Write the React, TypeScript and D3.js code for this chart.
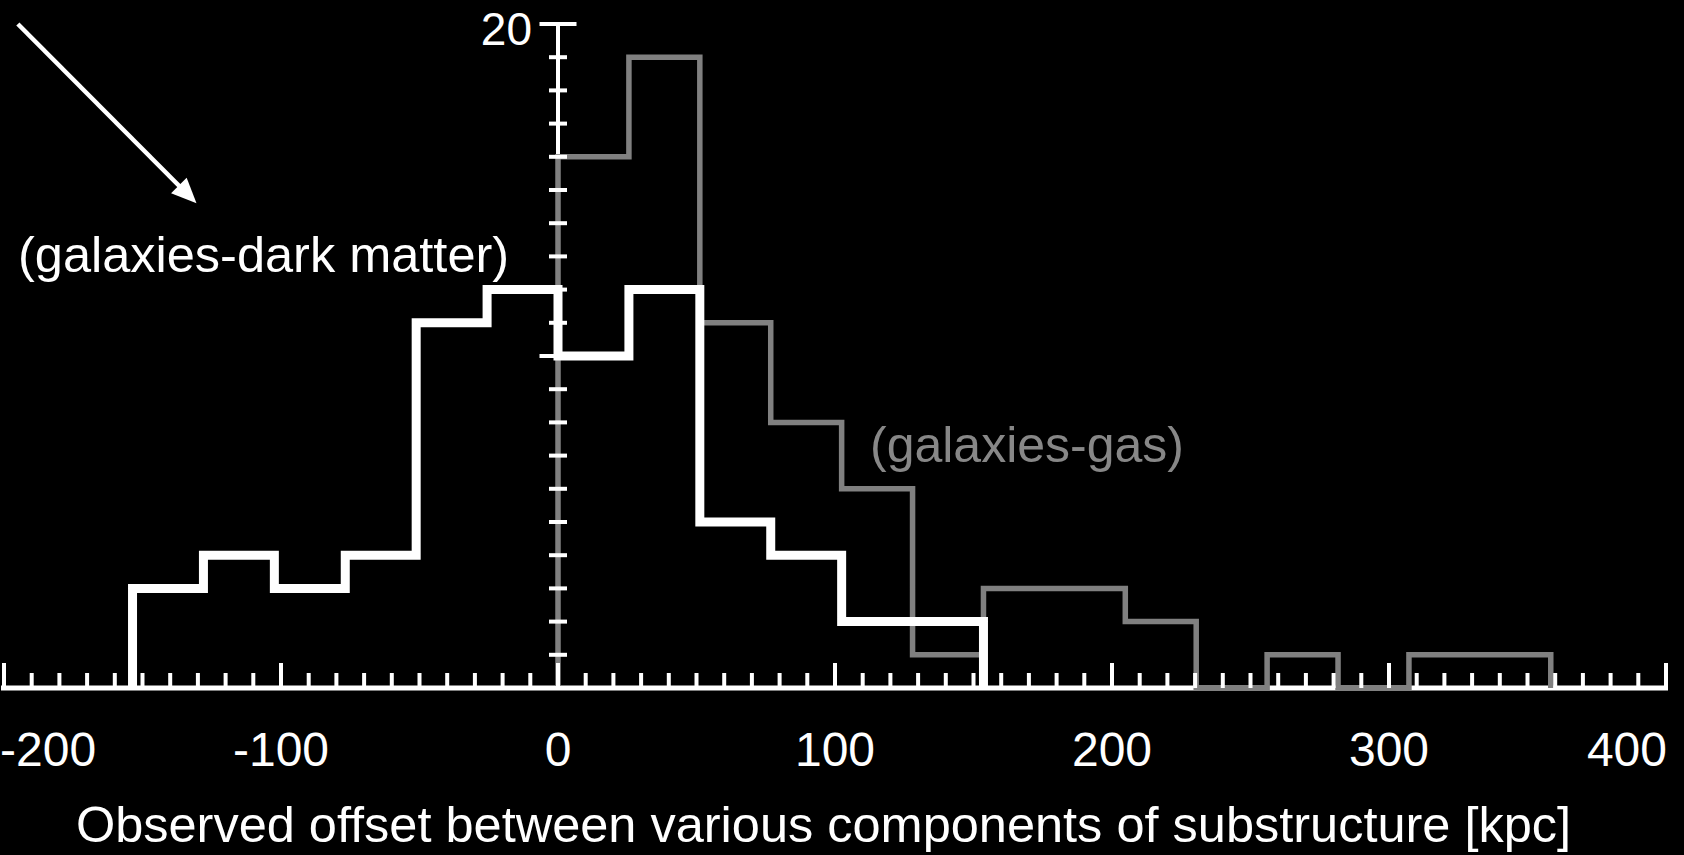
import React from "react";
import * as d3 from "d3";

const W = 1684;
const H = 855;

// Histogram data (counts per bin), bin width in kpc
const binWidth = 25.6;
const darkMatterFirstBin = -6; // first bin starts at -6 * binWidth
const darkMatterCounts = [3, 4, 3, 4, 11, 12, 10, 12, 5, 4, 2, 2];
const gasFirstBin = 0;
const gasCounts = [16, 19, 11, 8, 6, 1, 3, 3, 2, 0, 1, 0, 1, 1];

const xTickLabels = [-200, -100, 0, 100, 200, 300, 400];
const yTickLabels = [20];

const xLabel = "Observed offset between various components of substructure [kpc]";
const darkMatterLabel = "(galaxies-dark matter)";
const gasLabel = "(galaxies-gas)";

const FONT = "'Liberation Sans', Arial, Helvetica, sans-serif";
const GRAY = "#808080";

function stepPoints(first: number, counts: number[]): [number, number][] {
  const pts: [number, number][] = [];
  const e0 = first * binWidth;
  pts.push([e0, 0]);
  counts.forEach((c, i) => {
    const a = (first + i) * binWidth;
    const b = (first + i + 1) * binWidth;
    pts.push([a, c]);
    pts.push([b, c]);
  });
  pts.push([(first + counts.length) * binWidth, 0]);
  return pts;
}

export default function App() {
  const x = d3.scaleLinear().domain([-200, 400]).range([4, 1666]);
  const y = d3.scaleLinear().domain([0, 20]).range([688, 24]);

  const line = d3
    .line<[number, number]>()
    .x((d) => x(d[0]))
    .y((d) => y(d[1]));

  const dmPath = line(stepPoints(darkMatterFirstBin, darkMatterCounts)) || "";
  const gasPath = line(stepPoints(gasFirstBin, gasCounts)) || "";

  const xMinor = d3.range(-200, 401, 10);
  const yMinor = d3.range(0, 21, 1);

  // arrow annotation in data units
  const a0: [number, number] = [x(-195), y(20)];
  const a1: [number, number] = [x(-130.5), y(14.6)];
  const dx = a1[0] - a0[0];
  const dy = a1[1] - a0[1];
  const len = Math.hypot(dx, dy);
  const ux = dx / len;
  const uy = dy / len;
  const headLen = 25;
  const headHalf = 11;
  const bx = a1[0] - ux * headLen;
  const by = a1[1] - uy * headLen;
  const head = [
    [a1[0], a1[1]],
    [bx - uy * headHalf, by + ux * headHalf],
    [bx + uy * headHalf, by - ux * headHalf],
  ]
    .map((p) => p.join(","))
    .join(" ");

  const x0 = x(0);

  return (
    <svg
      width={W}
      height={H}
      style={{ position: "absolute", left: 0, top: 0, display: "block" }}
    >
      <rect x={0} y={0} width={W} height={H} fill="#000" />

      {/* x axis line */}
      <line
        x1={x(-200) - 3}
        x2={x(400) + 2}
        y1={y(0)}
        y2={y(0)}
        stroke="#fff"
        strokeWidth={5}
      />
      {/* y axis line */}
      <line x1={x0} x2={x0} y1={y(0)} y2={y(20) - 2} stroke="#fff" strokeWidth={4} />

      {/* gas histogram */}
      <path
        d={gasPath}
        fill="none"
        stroke={GRAY}
        strokeWidth={5.5}
        strokeLinejoin="miter"
      />

      {/* x ticks */}
      {xMinor.map((v) => {
        const major = v % 100 === 0;
        return (
          <line
            key={"xt" + v}
            x1={x(v)}
            x2={x(v)}
            y1={y(0)}
            y2={y(0) - (major ? 25 : 15)}
            stroke="#fff"
            strokeWidth={4}
          />
        );
      })}

      {/* y ticks */}
      {yMinor.map((v) => {
        const major = v % 10 === 0;
        const hw = major ? 18.5 : 9;
        return (
          <line
            key={"yt" + v}
            x1={x0 - hw}
            x2={x0 + hw}
            y1={y(v)}
            y2={y(v)}
            stroke="#fff"
            strokeWidth={4}
          />
        );
      })}

      {/* dark matter histogram */}
      <path
        d={dmPath}
        fill="none"
        stroke="#fff"
        strokeWidth={9}
        strokeLinejoin="miter"
      />

      {/* x tick labels */}
      {xTickLabels.map((v, i) => {
        let anchor: "start" | "middle" | "end" = "middle";
        let px = x(v);
        if (i === 0) {
          anchor = "start";
          px = x(v) - 4;
        } else if (i === xTickLabels.length - 1) {
          anchor = "end";
          px = x(v) + 1;
        }
        return (
          <text
            key={"xl" + v}
            x={px}
            y={766}
            fill="#fff"
            fontFamily={FONT}
            fontSize={48}
            textAnchor={anchor}
          >
            {String(v)}
          </text>
        );
      })}

      {/* y tick label */}
      {yTickLabels.map((v) => (
        <text
          key={"yl" + v}
          x={x0 - 26}
          y={y(v) + 21}
          fill="#fff"
          fontFamily={FONT}
          fontSize={46}
          textAnchor="end"
        >
          {String(v)}
        </text>
      ))}

      {/* x axis title */}
      <text
        x={823.5}
        y={842}
        fill="#fff"
        fontFamily={FONT}
        fontSize={50.5}
        textAnchor="middle"
      >
        {xLabel}
      </text>

      {/* series labels */}
      <text x={18} y={272} fill="#fff" fontFamily={FONT} fontSize={50.5}>
        {darkMatterLabel}
      </text>
      <text x={870} y={462} fill="#878787" fontFamily={FONT} fontSize={50}>
        {gasLabel}
      </text>

      {/* arrow */}
      <line
        x1={a0[0]}
        y1={a0[1]}
        x2={bx + ux * 2}
        y2={by + uy * 2}
        stroke="#fff"
        strokeWidth={4.5}
      />
      <polygon points={head} fill="#fff" />
    </svg>
  );
}
